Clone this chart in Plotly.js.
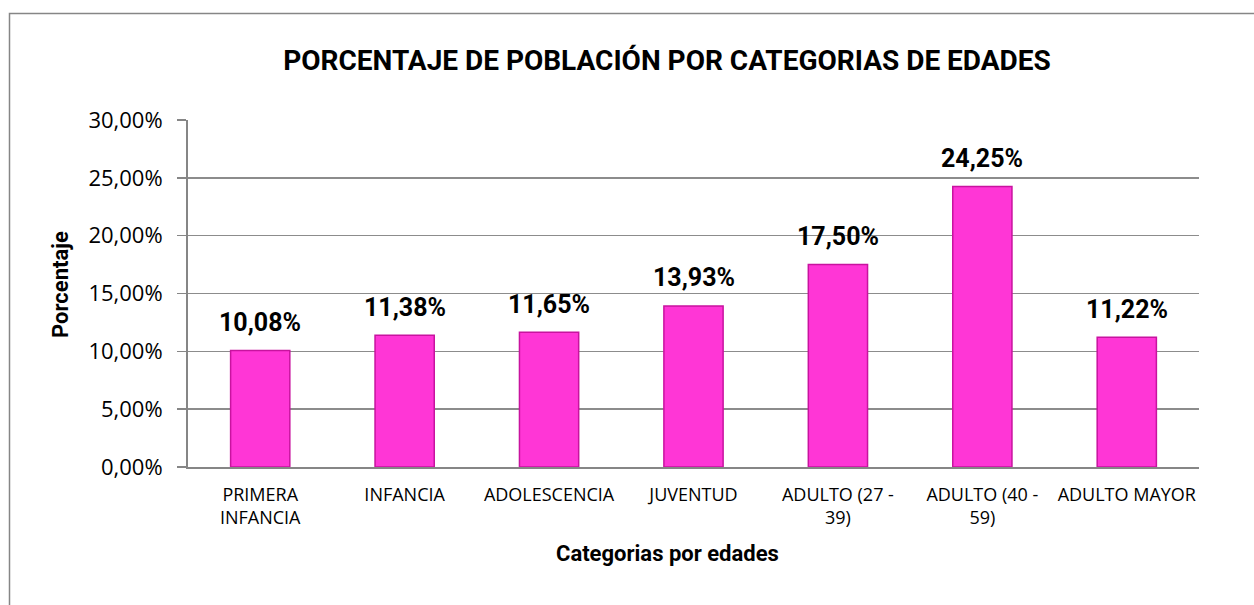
<!DOCTYPE html>
<html>
<head>
<meta charset="utf-8">
<script src="https://cdn.plot.ly/plotly-3.0.1.min.js"></script>
<style>
html,body{margin:0;padding:0;background:#fff;}
#chart{width:1254px;height:605px;}
</style>
</head>
<body>
<div id="chart"></div>
<script>
const categories = ["PRIMERA<br>INFANCIA", "INFANCIA", "ADOLESCENCIA", "JUVENTUD", "ADULTO (27 -<br>39)", "ADULTO (40 -<br>59)", "ADULTO MAYOR"];
const values = [0.1008, 0.1138, 0.1165, 0.1393, 0.1750, 0.2425, 0.1122];
const valueLabels = ["10,08%", "11,38%", "11,65%", "13,93%", "17,50%", "24,25%", "11,22%"];
const yTickVals = [0, 0.05, 0.10, 0.15, 0.20, 0.25, 0.30];
const yTickText = ["0,00%", "5,00%", "10,00%", "15,00%", "20,00%", "25,00%", "30,00%"];

const W = 1254, H = 605;
const mL = 188, mR = 55, mT = 120, mB = 138;
const pw = W - mL - mR, ph = H - mT - mB;
const px = x => (x - mL) / pw;
const py = y => (H - mB - y) / ph;

const boldFont = 'Roboto, "Liberation Sans", sans-serif';
const regular = '"Open Sans", "Liberation Sans", sans-serif';

const trace = {
  type: 'bar',
  x: categories,
  y: values,
  marker: {color: '#ff36d6', line: {color: '#c8139f', width: 1.5}},
  width: 0.41,
  hoverinfo: 'skip'
};

const annotations = categories.map((c, i) => ({
  x: c, y: values[i], xref: 'x', yref: 'y',
  text: '<b>' + valueLabels[i] + '</b>',
  showarrow: false, yanchor: 'middle', yshift: 28,
  font: {family: boldFont, size: 25, color: '#000'}
}));

annotations.push({
  xref: 'paper', yref: 'paper', x: px(667), y: py(553),
  xanchor: 'center', yanchor: 'middle', showarrow: false,
  text: '<b>Categorias por edades</b>',
  font: {family: boldFont, size: 22, color: '#000'}
});
annotations.push({
  xref: 'paper', yref: 'paper', x: px(60), y: py(285),
  xanchor: 'center', yanchor: 'middle', showarrow: false, textangle: -90,
  text: '<b>Porcentaje</b>',
  font: {family: boldFont, size: 22, color: '#000'}
});

const layout = {
  width: W, height: H,
  margin: {l: mL, r: mR, t: mT, b: mB, pad: 0},
  paper_bgcolor: '#fff', plot_bgcolor: '#fff',
  showlegend: false,
  title: {
    text: '<b>PORCENTAJE DE POBLACIÓN POR CATEGORIAS DE EDADES</b>',
    font: {family: boldFont, size: 28, color: '#000'},
    x: 667 / W, xanchor: 'center', xref: 'container',
    y: 1 - 60 / H, yanchor: 'middle', yref: 'container'
  },
  xaxis: {
    type: 'category',
    showgrid: false,
    showline: true, linecolor: '#868686', linewidth: 2,
    ticks: '', ticklen: 0,
    ticklabelstandoff: 10,
    tickfont: {family: regular, size: 18, color: '#000'},
    fixedrange: true
  },
  yaxis: {
    range: [0, 0.30],
    tickvals: yTickVals, ticktext: yTickText,
    showgrid: true, gridcolor: '#8c8c8c', gridwidth: 1.5,
    showline: true, linecolor: '#868686', linewidth: 2,
    ticks: 'outside', ticklen: 9, tickcolor: '#868686', tickwidth: 1.5,
    ticklabelstandoff: 10,
    tickfont: {family: regular, size: 22, color: '#000'},
    zeroline: false,
    fixedrange: true
  },
  annotations: annotations,
  shapes: [{
    type: 'rect', xref: 'paper', yref: 'paper',
    x0: px(9.5), x1: px(1300), y0: py(650), y1: py(13.5),
    line: {color: '#868686', width: 1.5}, fillcolor: 'rgba(0,0,0,0)', layer: 'below'
  }]
};

Plotly.newPlot('chart', [trace], layout, {displayModeBar: false, staticPlot: true});
</script>
</body>
</html>
